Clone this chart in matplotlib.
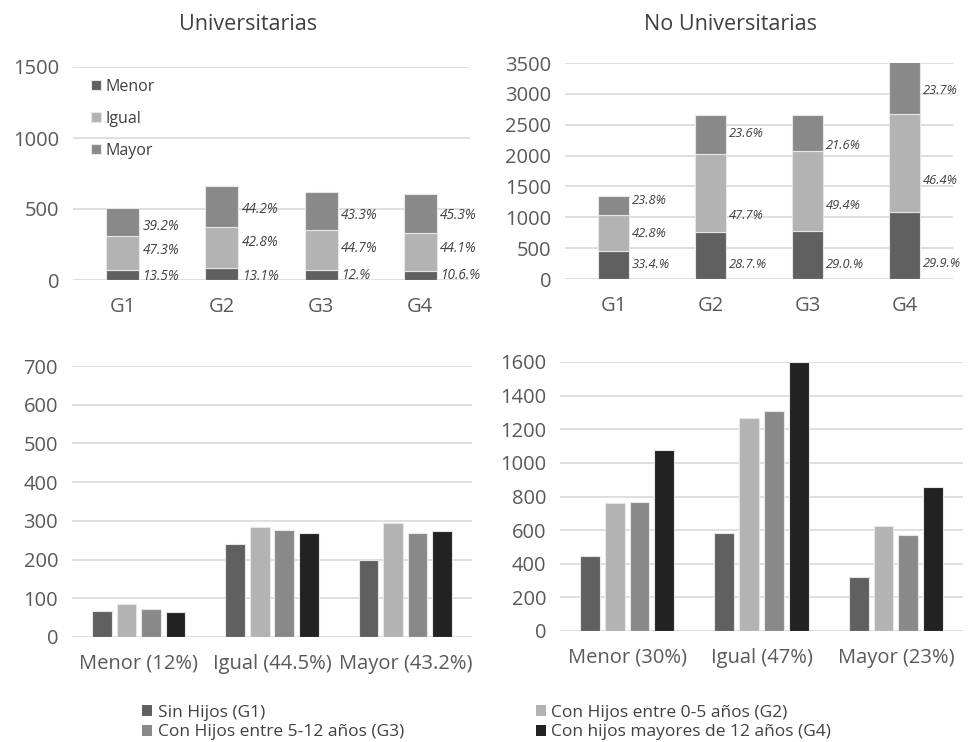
import matplotlib
matplotlib.use("Agg")
import matplotlib.pyplot as plt
from matplotlib.patches import Patch
import numpy as np

plt.rcParams['font.family'] = ['Open Sans', 'DejaVu Sans']

# ---------------- data ----------------
groups = ["G1", "G2", "G3", "G4"]
levels = ["Menor", "Igual", "Mayor"]

# Universitarias: counts by level and group
univ_menor = [67, 86, 73, 64]
univ_igual = [240, 284, 277, 268]
univ_mayor = [199, 294, 268, 275]
univ_pct_menor = ["13.5%", "13.1%", "12.%", "10.6.%"]
univ_pct_igual = ["47.3%", "42.8%", "44.7%", "44.1%"]
univ_pct_mayor = ["39.2%", "44.2%", "43.3%", "45.3%"]

# No Universitarias
nouniv_menor = [449, 760, 770, 1078]
nouniv_igual = [580, 1267, 1310, 1600]
nouniv_mayor = [320, 627, 572, 854]
nouniv_pct_menor = ["33.4.%", "28.7.%", "29.0.%", "29.9.%"]
nouniv_pct_igual = ["42.8%", "47.7%", "49.4%", "46.4%"]
nouniv_pct_mayor = ["23.8%", "23.6%", "21.6%", "23.7%"]

univ_cats = ["Menor (12%)", "Igual (44.5%)", "Mayor (43.2%)"]
nouniv_cats = ["Menor (30%)", "Igual (47%)", "Mayor (23%)"]
group_names = ["Sin Hijos (G1)", "Con Hijos entre 0-5 años (G2)",
               "Con Hijos entre 5-12 años (G3)", "Con hijos mayores de 12 años (G4)"]

# label anchor heights (annotation positions, data units)
univ_label_y = [[28, 28, 33, 33], [206, 263, 221, 221], [380, 493, 451, 451]]
nouniv_label_y = [[227, 243, 243, 259], [745, 1037, 1183, 1604], [1280, 2350, 2171, 3062]]

# ---------------- style ----------------
c_level = ["#606060", "#b3b3b3", "#898989"]
c_group = ["#606060", "#b3b3b3", "#898989", "#222222"]
grid_c = "#d9d9d9"
tick_c = "#595959"
edge_c = "#e6e6e6"

W, H = 969, 742
fig = plt.figure(figsize=(W / 100, H / 100), dpi=100)


def ax_px(x0, x1, ytop, ybot):
    return fig.add_axes([x0 / W, 1 - ybot / H, (x1 - x0) / W, (ybot - ytop) / H])


def style(ax, ymax, step):
    ax.set_ylim(0, ymax)
    ax.set_yticks(np.arange(0, ymax + 1, step))
    for s in ax.spines.values():
        s.set_visible(False)
    ax.grid(axis="y", color=grid_c, linewidth=1.2)
    ax.set_axisbelow(True)
    ax.tick_params(length=0, labelsize=14.5, colors=tick_c)
    ax.tick_params(axis="x", pad=12)
    ax.tick_params(axis="y", pad=10)


def stacked(ax, menor, igual, mayor, pcts, label_y, width, fs):
    x = np.arange(len(groups))
    bottoms = np.zeros(len(groups))
    for vals, col, lab in zip([menor, igual, mayor], c_level, levels):
        ax.bar(x, vals, width, bottom=bottoms, color=col, edgecolor=edge_c,
               linewidth=0.8, label=lab, zorder=2)
        bottoms = bottoms + np.array(vals)
    for li in range(3):
        for gi in range(len(groups)):
            ax.text(x[gi] + width / 2 + 0.035, label_y[li][gi], pcts[li][gi],
                    fontsize=fs, style="italic", color="#404040",
                    va="center", ha="left", zorder=3)
    ax.set_xticks(x)
    ax.set_xticklabels(groups)
    ax.set_xlim(-0.5, len(groups) - 0.5)


def grouped(ax, data_by_level, cats):
    x = np.arange(len(cats))
    w = 0.148
    step = 0.184
    for gi in range(4):
        vals = [data_by_level[li][gi] for li in range(3)]
        ax.bar(x + (gi - 1.5) * step, vals, w, color=c_group[gi],
               edgecolor=edge_c, linewidth=0.8, zorder=2)
    ax.set_xticks(x)
    ax.set_xticklabels(cats)
    ax.set_xlim(-0.5, len(cats) - 0.5)


# top-left: Universitarias
ax1 = ax_px(73, 470, 67, 280)
style(ax1, 1500, 500)
stacked(ax1, univ_menor, univ_igual, univ_mayor,
        [univ_pct_menor, univ_pct_igual, univ_pct_mayor], univ_label_y, 0.33, 9.8)
fig.text(248 / W, 1 - 25 / H, "Universitarias", fontsize=15.5, color="#404040",
         ha="center", va="center")
ax1.legend(loc="upper left", bbox_to_anchor=(18 / 397, 1 - 12 / 213), frameon=False,
           fontsize=11.5, labelcolor="#404040", handlelength=0.6,
           handleheight=0.6, handletextpad=0.3, labelspacing=1.0,
           borderaxespad=0, borderpad=0)

# top-right: No Universitarias
ax2 = ax_px(565, 953, 63, 279)
style(ax2, 3500, 500)
stacked(ax2, nouniv_menor, nouniv_igual, nouniv_mayor,
        [nouniv_pct_menor, nouniv_pct_igual, nouniv_pct_mayor], nouniv_label_y, 0.31, 9.3)
fig.text(730 / W, 1 - 25 / H, "No Universitarias", fontsize=15.5, color="#404040",
         ha="center", va="center")

# bottom-left
ax3 = ax_px(72, 472, 366, 637)
style(ax3, 700, 100)
grouped(ax3, [univ_menor, univ_igual, univ_mayor], univ_cats)

# bottom-right
ax4 = ax_px(560, 963, 362, 631)
style(ax4, 1600, 200)
grouped(ax4, [nouniv_menor, nouniv_igual, nouniv_mayor], nouniv_cats)

# bottom legend (column-wise: G1, G3 | G2, G4)
handles = [Patch(facecolor=c_group[i], edgecolor="none") for i in range(4)]
order = [0, 2, 1, 3]
fig.legend([handles[i] for i in order], [group_names[i] for i in order],
           loc="upper left", bbox_to_anchor=(142 / W, 1 - 705 / H), ncol=2,
           frameon=False, fontsize=12.5, labelcolor="#404040",
           handlelength=0.6, handleheight=0.6, handletextpad=0.3,
           labelspacing=0.2, columnspacing=7.6, borderaxespad=0, borderpad=0)

fig.savefig("out.png", dpi=100, facecolor="white")
